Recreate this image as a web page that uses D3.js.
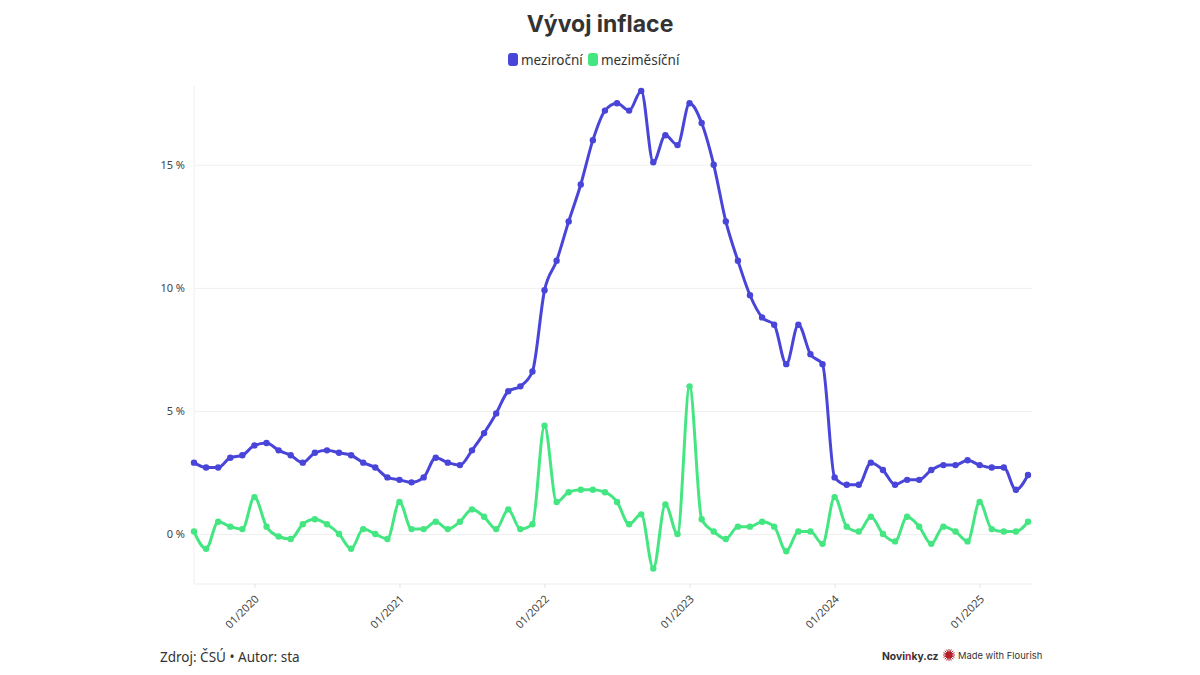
<!DOCTYPE html>
<meta charset="utf-8">
<style>
    html, body { margin: 0; background: #fff; }
    svg { display: block; }
    text { font-family: "Inter", "Noto Sans", sans-serif; fill: #333; }
    .title { font-size: 23px; font-weight: 700; }
    .legend text { font-size: 13.5px; font-family: "Noto Sans", sans-serif; }
    .axis text { font-size: 11px; fill: #444; font-family: "Noto Sans", sans-serif; }
    .axis .domain { stroke: #eee; }
    .y .tick line { stroke: #f0f0f0; }
    .x .tick line { stroke: #e4e4e4; }
    .footer { font-size: 13.5px; font-family: "Noto Sans", sans-serif; }
    .line { fill: none; stroke-width: 3px; stroke-linejoin: round; }
</style>

<body>
    <script src="https://d3js.org/d3.v7.min.js"></script>
    <script>
        var months = [
            "08/2019", "09/2019", "10/2019", "11/2019", "12/2019",
            "01/2020", "02/2020", "03/2020", "04/2020", "05/2020", "06/2020", "07/2020", "08/2020", "09/2020", "10/2020", "11/2020", "12/2020",
            "01/2021", "02/2021", "03/2021", "04/2021", "05/2021", "06/2021", "07/2021", "08/2021", "09/2021", "10/2021", "11/2021", "12/2021",
            "01/2022", "02/2022", "03/2022", "04/2022", "05/2022", "06/2022", "07/2022", "08/2022", "09/2022", "10/2022", "11/2022", "12/2022",
            "01/2023", "02/2023", "03/2023", "04/2023", "05/2023", "06/2023", "07/2023", "08/2023", "09/2023", "10/2023", "11/2023", "12/2023",
            "01/2024", "02/2024", "03/2024", "04/2024", "05/2024", "06/2024", "07/2024", "08/2024", "09/2024", "10/2024", "11/2024", "12/2024",
            "01/2025", "02/2025", "03/2025", "04/2025", "05/2025"
        ];

        var mezirocni = [
            2.9, 2.7, 2.7, 3.1, 3.2,
            3.6, 3.7, 3.4, 3.2, 2.9, 3.3, 3.4, 3.3, 3.2, 2.9, 2.7, 2.3,
            2.2, 2.1, 2.3, 3.1, 2.9, 2.8, 3.4, 4.1, 4.9, 5.8, 6.0, 6.6,
            9.9, 11.1, 12.7, 14.2, 16.0, 17.2, 17.5, 17.2, 18.0, 15.1, 16.2, 15.8,
            17.5, 16.7, 15.0, 12.7, 11.1, 9.7, 8.8, 8.5, 6.9, 8.5, 7.3, 6.9,
            2.3, 2.0, 2.0, 2.9, 2.6, 2.0, 2.2, 2.2, 2.6, 2.8, 2.8, 3.0,
            2.8, 2.7, 2.7, 1.8, 2.4
        ];

        var mezimesicni = [
            0.1, -0.6, 0.5, 0.3, 0.2,
            1.5, 0.3, -0.1, -0.2, 0.4, 0.6, 0.4, 0.0, -0.6, 0.2, 0.0, -0.2,
            1.3, 0.2, 0.2, 0.5, 0.2, 0.5, 1.0, 0.7, 0.2, 1.0, 0.2, 0.4,
            4.4, 1.3, 1.7, 1.8, 1.8, 1.7, 1.3, 0.4, 0.8, -1.4, 1.2, 0.0,
            6.0, 0.6, 0.1, -0.2, 0.3, 0.3, 0.5, 0.3, -0.7, 0.1, 0.1, -0.4,
            1.5, 0.3, 0.1, 0.7, 0.0, -0.3, 0.7, 0.3, -0.4, 0.3, 0.1, -0.3,
            1.3, 0.2, 0.1, 0.1, 0.5
        ];

        var xTicks = ["01/2020", "01/2021", "01/2022", "01/2023", "01/2024", "01/2025"];
        var yTicks = [0, 5, 10, 15];
        var seriesNames = ["meziroční", "meziměsíční"];
        var seriesColors = ["#4845d8", "#44e682"];
        var seriesValues = [mezirocni, mezimesicni];

        var width = 1200,
            height = 675,
            margin = { top: 86, right: 172, bottom: 91, left: 194 };

        var svg = d3.select("body").append("svg")
            .attr("width", width)
            .attr("height", height);

        var x = d3.scalePoint()
            .domain(months)
            .range([margin.left, width - margin.right]);

        var y = d3.scaleLinear()
            .domain([-2.03, 18.2])
            .range([height - margin.bottom, margin.top]);

        // axes
        var yAxis = svg.append("g")
            .attr("class", "axis y")
            .attr("transform", "translate(" + margin.left + ",0)")
            .call(d3.axisLeft(y)
                .tickValues(yTicks)
                .tickSize(-(width - margin.left - margin.right + 4))
                .tickPadding(9)
                .tickFormat(function(d) { return d + " %"; }));
        yAxis.selectAll(".domain").attr("d", "M0," + y.range()[0] + "V" + y.range()[1]);

        var xAxis = svg.append("g")
            .attr("class", "axis x")
            .attr("transform", "translate(0," + (height - margin.bottom) + ")")
            .call(d3.axisBottom(x)
                .tickValues(xTicks)
                .tickSize(4)
                .tickPadding(5));
        xAxis.selectAll(".domain")
            .attr("d", "M" + margin.left + ",0H" + (width - margin.right + 4));
        xAxis.selectAll(".tick text")
            .attr("text-anchor", "end")
            .attr("x", -7.8)
            .attr("y", 10.6)
            .attr("dy", "0.35em")
            .attr("transform", "rotate(-45)");

        // lines and dots
        var line = d3.line()
            .x(function(d, i) { return x(months[i]); })
            .y(function(d) { return y(d); })
            .curve(d3.curveMonotoneX);

        seriesValues.forEach(function(values, s) {
            svg.append("path")
                .datum(values)
                .attr("class", "line")
                .attr("stroke", seriesColors[s])
                .attr("d", line);

            svg.append("g").selectAll("circle")
                .data(values)
                .enter().append("circle")
                .attr("cx", function(d, i) { return x(months[i]); })
                .attr("cy", function(d) { return y(d); })
                .attr("r", 3.2)
                .attr("fill", seriesColors[s]);
        });

        // title
        svg.append("text")
            .attr("class", "title")
            .attr("x", 600)
            .attr("y", 32)
            .attr("text-anchor", "middle")
            .text("Vývoj inflace");

        // legend
        var legend = svg.append("g").attr("class", "legend");
        var legendX = [508, 588];
        seriesNames.forEach(function(name, i) {
            legend.append("rect")
                .attr("x", legendX[i])
                .attr("y", 53)
                .attr("width", 10)
                .attr("height", 13)
                .attr("rx", 3)
                .attr("fill", seriesColors[i]);
            legend.append("text")
                .attr("x", legendX[i] + 13)
                .attr("y", 64.5)
                .text(name);
        });

        // footer
        svg.append("text")
            .attr("class", "footer")
            .attr("x", 160)
            .attr("y", 662)
            .text("Zdroj: ČSÚ • Autor: sta");

        svg.append("text")
            .attr("x", 882)
            .attr("y", 659.5)
            .style("font-size", "10.3px")
            .style("font-weight", "700")
            .html('Novi<tspan style="fill:#a5262e">n</tspan>ky.cz');

        // flourish logo
        var logo = svg.append("g").attr("transform", "translate(949,655)");
        logo.selectAll("line")
            .data(d3.range(16))
            .enter().append("line")
            .attr("x2", function(d) { return 6 * Math.cos(d * Math.PI / 8); })
            .attr("y2", function(d) { return 6 * Math.sin(d * Math.PI / 8); })
            .attr("stroke", "#b3202c")
            .attr("stroke-width", 1);
        logo.append("circle").attr("r", 3.5).attr("fill", "#b3202c");

        svg.append("text")
            .attr("x", 958)
            .attr("y", 659)
            .style("font-size", "9.4px")
            .text("Made with Flourish");
    </script>
</body>
